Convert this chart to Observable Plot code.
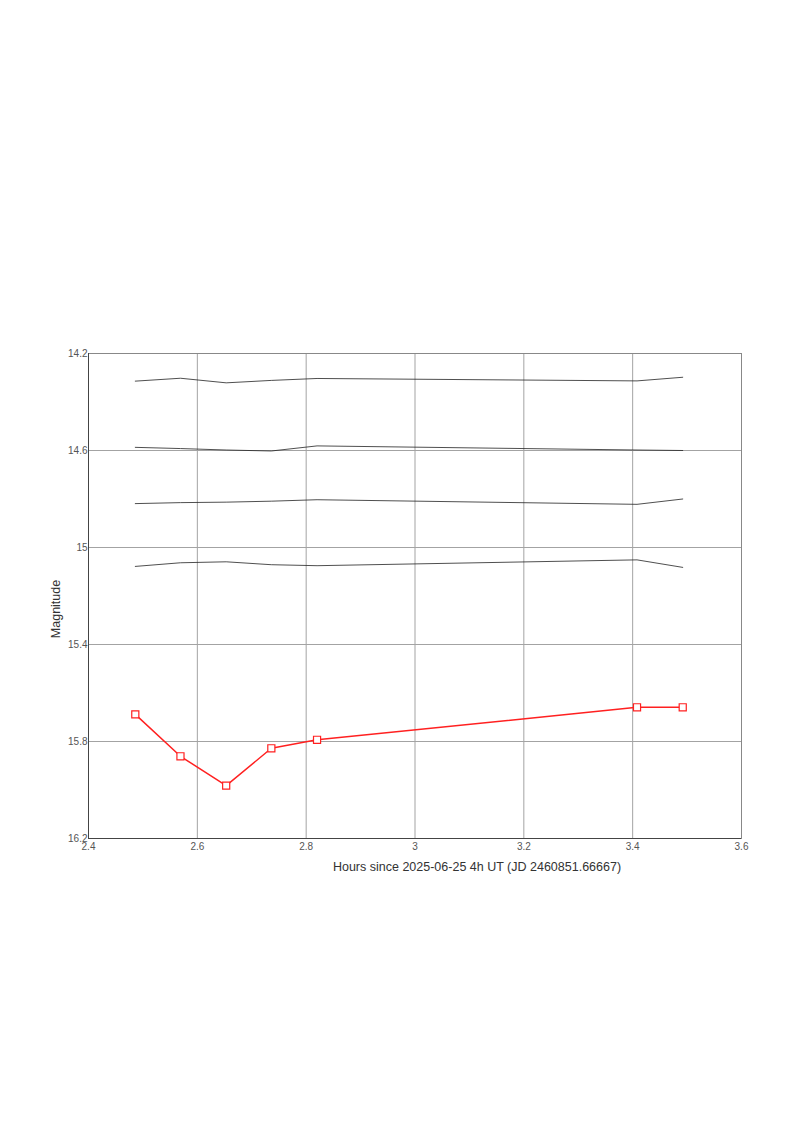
<!DOCTYPE html>
<html>
<head>
<meta charset="utf-8">
<script src="https://cdn.jsdelivr.net/npm/d3@7"></script>
<script src="https://cdn.jsdelivr.net/npm/@observablehq/plot@0.6"></script>
<style>
  html, body { margin: 0; padding: 0; background: #fff; }
  #chart svg { display: block; }
</style>
</head>
<body>
<div id="chart"></div>
<script>
const hours = [2.486, 2.569, 2.653, 2.736, 2.820, 3.408, 3.492];
const target = [15.688, 15.861, 15.982, 15.828, 15.793, 15.659, 15.659];
const comp1 = [14.314, 14.302, 14.321, 14.311, 14.303, 14.313, 14.298];
const comp2 = [14.587, 14.592, 14.598, 14.602, 14.581, 14.598, 14.600];
const comp3 = [14.819, 14.815, 14.813, 14.809, 14.803, 14.822, 14.800];
const comp4 = [15.078, 15.063, 15.059, 15.071, 15.075, 15.051, 15.082];
const xTicks = [2.4, 2.6, 2.8, 3, 3.2, 3.4, 3.6];
const yTicks = [14.2, 14.6, 15, 15.4, 15.8, 16.2];
const xLabel = "Hours since 2025-06-25 4h UT (JD 2460851.66667)";
const yLabel = "Magnitude";

const comps = [comp1, comp2, comp3, comp4];
const compRows = comps.flatMap((s, i) => s.map((m, j) => ({series: "c" + i, h: hours[j], m})));
const targetRows = target.map((m, j) => ({h: hours[j], m}));

const chart = Plot.plot({
  width: 794,
  height: 1123,
  marginLeft: 88,
  marginRight: 53,
  marginTop: 353,
  marginBottom: 285,
  style: {fontFamily: "'Liberation Sans', Arial, sans-serif", fontSize: "10px", background: "#fff"},
  x: {domain: [2.4, 3.6], ticks: xTicks, label: null, tickSize: 0, tickPadding: 3, tickFormat: d => String(d)},
  y: {domain: [14.2, 16.2], reverse: true, ticks: yTicks, label: null, tickSize: 0, tickPadding: 1, tickFormat: d => String(d)},
  marks: [
    Plot.ruleX(xTicks, {stroke: "#a3a3a3", strokeWidth: 1}),
    Plot.ruleY(yTicks, {stroke: "#a3a3a3", strokeWidth: 1}),
    Plot.frame({stroke: "#888"}),
    Plot.ruleX([2.4], {stroke: "#444"}),
    Plot.ruleY([16.2], {stroke: "#444"}),
    Plot.axisX({ticks: xTicks, tickSize: 0, tickPadding: 4, fill: "#555", tickFormat: d => String(d), label: null}),
    Plot.axisY({ticks: yTicks, tickSize: 0, tickPadding: 1, fill: "#555", tickFormat: d => String(d), label: null}),
    Plot.line(compRows, {x: "h", y: "m", z: "series", stroke: "#222", strokeWidth: 0.8}),
    Plot.line(targetRows, {x: "h", y: "m", stroke: "#ff2020", strokeWidth: 1.5}),
    Plot.dot(targetRows, {x: "h", y: "m", symbol: "square", r: 4, stroke: "#ff2020", fill: "#fff", strokeWidth: 1.2}),
    Plot.text([xLabel], {frameAnchor: "bottom", dx: 62, dy: 32, fill: "#333", fontSize: 12.5, textAnchor: "middle"}),
    Plot.text([yLabel], {frameAnchor: "left", dx: -33, dy: 13, rotate: -90, fill: "#333", fontSize: 12.5, textAnchor: "middle"})
  ]
});
document.getElementById("chart").appendChild(chart);
</script>
</body>
</html>
